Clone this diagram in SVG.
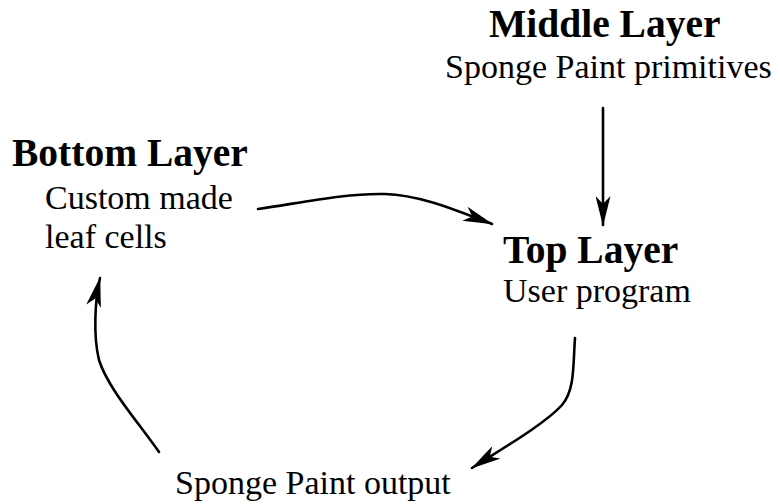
<svg xmlns="http://www.w3.org/2000/svg" width="780" height="504" viewBox="0 0 780 504">
  <style>
    .title { font-family: "Liberation Serif", "Times New Roman", serif; font-weight: bold; font-size: 39.5px; fill: #000; }
    .sub { font-family: "Liberation Serif", "Times New Roman", serif; font-size: 34px; fill: #000; }
    .link { fill: none; stroke: #000; stroke-width: 2.6; stroke-linecap: round; }
  </style>
  <defs>
    <!-- notched arrowhead, tip at the path end -->
    <marker id="head" viewBox="0 0 30 15" refX="29" refY="7.5" markerWidth="30" markerHeight="15" markerUnits="userSpaceOnUse" orient="auto">
      <path d="M0,0 L30,7.5 L0,15 L8,7.5 Z" fill="#000"/>
    </marker>
  </defs>
  <rect width="780" height="504" fill="#fff"/>

  <g id="middle-layer">
    <text class="title" x="489" y="37">Middle Layer</text>
    <text class="sub" x="445" y="78">Sponge Paint primitives</text>
  </g>

  <g id="bottom-layer">
    <text class="title" x="12" y="166">Bottom Layer</text>
    <text class="sub" x="45" y="209">Custom made</text>
    <text class="sub" x="45" y="248">leaf cells</text>
  </g>

  <g id="top-layer">
    <text class="title" x="503" y="263">Top Layer</text>
    <text class="sub" x="503" y="302">User program</text>
  </g>

  <g id="output">
    <text class="sub" x="175" y="494">Sponge Paint output</text>
  </g>

  <g id="connectors">
    <path class="link" d="M258,209 C300,203 345,193 385,194 C420,195 455,210 492,224" marker-end="url(#head)"/>
    <path class="link" d="M603,108 L603,225" marker-end="url(#head)"/>
    <path class="link" d="M575,338 C573,365 575,390 562,405 C545,424 500,450 472,468" marker-end="url(#head)"/>
    <path class="link" d="M159,452 C135,418 108,388 99,360 C93,335 95,300 100,278" marker-end="url(#head)"/>
  </g>
</svg>
